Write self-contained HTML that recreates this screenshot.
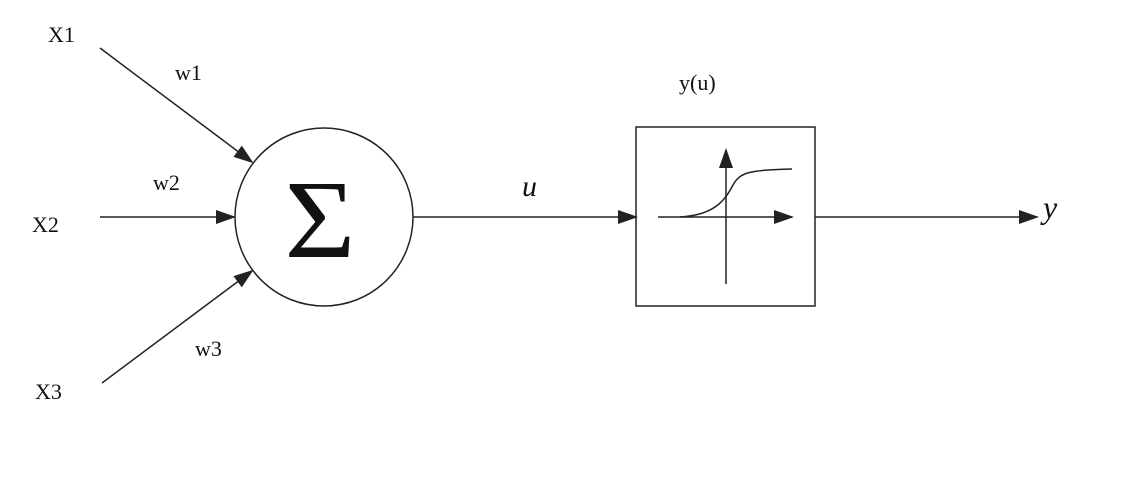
<!DOCTYPE html>
<html><head><style>body{margin:0;background:#fff}svg{display:block}</style></head>
<body>
<svg width="1126" height="494" xmlns="http://www.w3.org/2000/svg" font-family="Liberation Serif, serif">
<defs><marker id="a" markerWidth="20" markerHeight="14" refX="18" refY="7" orient="auto" markerUnits="userSpaceOnUse"><path d="M0,0 L20,7 L0,14 z" fill="#222"/></marker></defs>
<g stroke="#222" stroke-width="1.5" fill="none">
<line x1="100" y1="48" x2="252" y2="162" marker-end="url(#a)"/>
<line x1="100" y1="217" x2="234" y2="217" marker-end="url(#a)"/>
<line x1="102" y1="383" x2="252" y2="271" marker-end="url(#a)"/>
<circle cx="324" cy="217" r="89"/>
<line x1="413" y1="217" x2="636" y2="217" marker-end="url(#a)"/>
<rect x="636" y="127" width="179" height="179"/>
<line x1="815" y1="217" x2="1037" y2="217" marker-end="url(#a)"/>
<line x1="658" y1="217" x2="792" y2="217" marker-end="url(#a)"/>
<line x1="726" y1="284" x2="726" y2="150" marker-end="url(#a)"/>
<path d="M680,217 C715,215 725,200 733,185 C740,172 750,170 792,169"/>
</g>
<g fill="#111" font-size="22">
<text x="48" y="42">X1</text>
<text x="32" y="232">X2</text>
<text x="35" y="399">X3</text>
<text x="175" y="80">w1</text>
<text x="153" y="190">w2</text>
<text x="195" y="356">w3</text>
<text x="679" y="90">y(u)</text>
<text x="522" y="196" font-style="italic" font-size="30">u</text>
<text x="1043" y="218" font-style="italic" font-size="32">y</text>
<text transform="translate(320,257) scale(1.15,1.05)" font-size="106" text-anchor="middle">Σ</text>
</g>
</svg>
</body></html>
